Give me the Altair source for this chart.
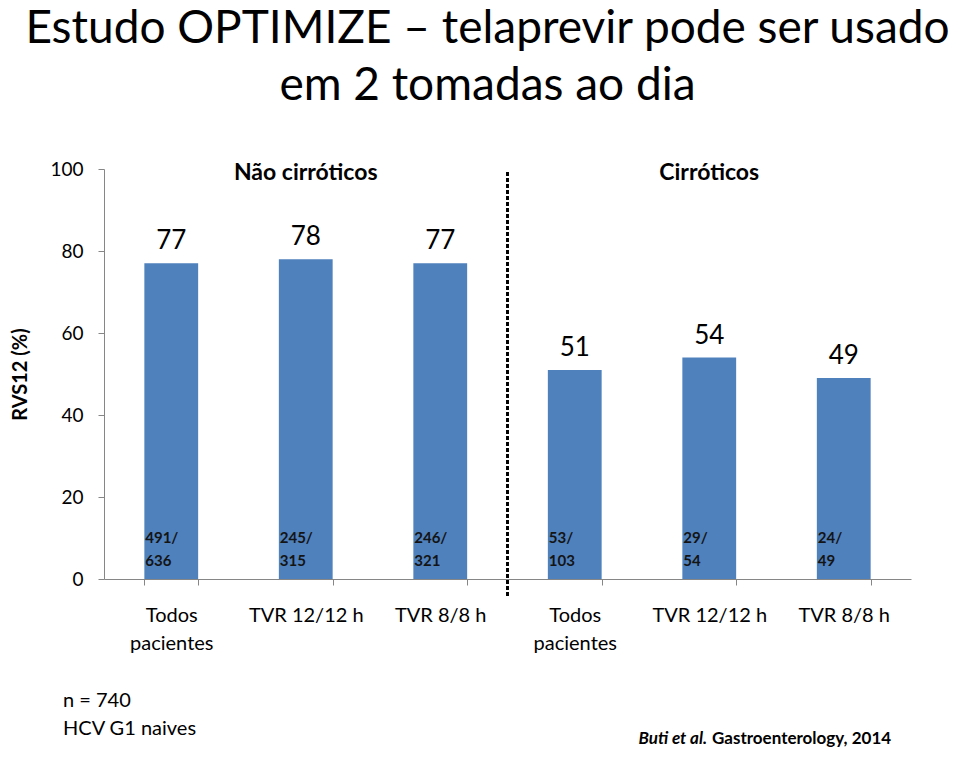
import altair as alt
import pandas as pd

# ---- data ----
keys = ["Todos~pacientes#1", "TVR 12/12 h#2", "TVR 8/8 h#3",
        "Todos~pacientes#4", "TVR 12/12 h#5", "TVR 8/8 h#6"]
values = [77, 78, 77, 51, 54, 49]
fractions = ["491/~636", "245/~315", "246/~321", "53/~103", "29/~54", "24/~49"]
group_names = ["Não cirróticos", "Cirróticos"]
group_anchor = ["TVR 12/12 h#2", "TVR 12/12 h#5"]
y_ticks = [0, 20, 40, 60, 80, 100]

df = pd.DataFrame({"key": keys, "value": values, "frac": fractions})
gdf = pd.DataFrame({"key": group_anchor, "name": group_names})

W, H = 807, 410
FONT = "Lato"

xscale = alt.Scale(domain=keys, paddingInner=0.6, paddingOuter=0.3)
x_enc = alt.X("key:N", sort=keys, scale=xscale, title=None,
              axis=alt.Axis(labelExpr="split(split(datum.label,'#')[0],'~')",
                            labelAngle=0, labelFontSize=20, labelFont=FONT,
                            labelColor="black", labelLineHeight=28,
                            labelBaseline="top", labelPadding=20,
                            tickBand="extent", tickSize=6, tickColor="#868686",
                            domainColor="#868686", labelLimit=200))
y_scale = alt.Scale(domain=[0, 100], nice=False)
y_enc = alt.Y("value:Q", scale=y_scale,
              axis=alt.Axis(values=y_ticks, grid=False, labelFontSize=19,
                            labelFont=FONT, labelColor="black", labelPadding=15,
                            tickSize=6, tickColor="#868686", domainColor="#868686",
                            title="RVS12 (%)", titleFont=FONT, titleFontSize=20,
                            titleFontWeight="bold", titleColor="black",
                            titleX=-84, titleY=H / 2, titleAngle=-90,
                            titleAlign="center", titleBaseline="middle"))

base = alt.Chart(df)
bars = base.mark_bar(color="#4f81bd").encode(x=x_enc, y=y_enc)

vlabels = base.mark_text(font=FONT, fontSize=26, baseline="alphabetic", dy=-14,
                         color="black").encode(
    x=alt.X("key:N", sort=keys, scale=xscale),
    y=alt.Y("value:Q", scale=y_scale), text="value:Q")

flabels = base.mark_text(font=FONT, fontSize=15, fontWeight="bold", align="left",
                         baseline="middle", lineBreak="~", lineHeight=23,
                         xOffset=-26, color="#141414").encode(
    x=alt.X("key:N", sort=keys, scale=xscale),
    y=alt.datum(10.0), text="frac:N")

glabels = alt.Chart(gdf).mark_text(font=FONT, fontSize=23, fontWeight="bold",
                                   baseline="middle", color="black").encode(
    x=alt.X("key:N", sort=keys, scale=xscale), y=alt.value(4), text="name:N")

divider = alt.Chart(df).mark_rule(color="black", strokeWidth=2,
                                  strokeDash=[4, 2]).encode(
    x=alt.value(W * 3 / 6), y=alt.value(3), y2=alt.value(H + 19))

notes = alt.Chart(pd.DataFrame({"t": ["n = 740~HCV G1 naives"]})).mark_text(
    font=FONT, fontSize=20, align="left", baseline="middle", lineBreak="~",
    lineHeight=28, color="black").encode(
    x=alt.value(-41), y=alt.value(532), text="t:N")

ref1 = alt.Chart(pd.DataFrame({"t": ["Buti et al."]})).mark_text(
    font=FONT, fontSize=17, fontWeight="bold", fontStyle="italic",
    align="right", baseline="middle", color="black").encode(
    x=alt.value(603), y=alt.value(570), text="t:N")
ref2 = alt.Chart(pd.DataFrame({"t": ["Gastroenterology, 2014"]})).mark_text(
    font=FONT, fontSize=17, fontWeight="bold",
    align="left", baseline="middle", color="black").encode(
    x=alt.value(608), y=alt.value(570), text="t:N")

chart = alt.layer(bars, vlabels, flabels, glabels, divider, notes, ref1, ref2).properties(
    width=W, height=H,
    title=alt.TitleParams(
        text=["Estudo OPTIMIZE – telaprevir pode ser usado", "em 2 tomadas ao dia"],
        font=FONT, fontSize=46, fontWeight="normal", color="black",
        lineHeight=57, anchor="middle", dx=-20, offset=50),
    autosize=alt.AutoSizeParams(type="none"),
    padding={"left": 96, "top": 161, "right": 41, "bottom": 171},
).configure_view(stroke=None)

chart.save("out.html", embed_options={"renderer": "svg", "actions": False})
